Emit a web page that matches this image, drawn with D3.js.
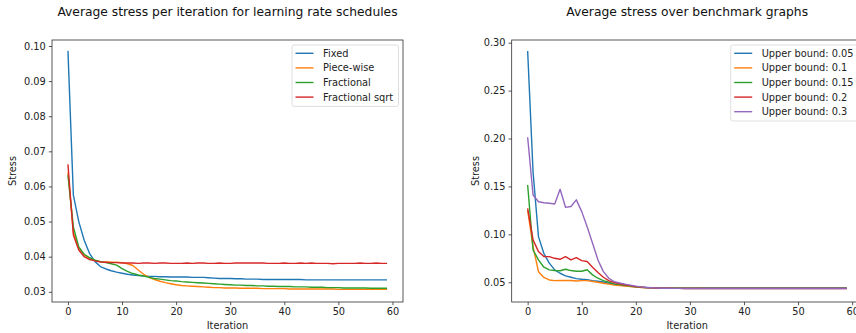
<!DOCTYPE html>
<html>
<head>
<meta charset="utf-8">
<script src="https://cdn.jsdelivr.net/npm/d3@7"></script>
<style>
  body { margin: 0; background: #fff; }
  svg { display: block; font-family: "DejaVu Sans", sans-serif; }
</style>
</head>
<body>
<svg id="chart" width="856" height="333"></svg>
<script>
// iterations 0..59
const iterations = d3.range(60);

// left panel: learning rate schedules
const scheduleNames = ["Fixed", "Piece-wise", "Fractional", "Fractional sqrt"];
const fixed = [0.0986, 0.0575, 0.0500, 0.0447, 0.0409, 0.0386, 0.0372, 0.0365, 0.0360, 0.0356,
  0.0353, 0.0350, 0.0348, 0.0346, 0.0345, 0.0344, 0.0344, 0.0343, 0.0343, 0.0342,
  0.0342, 0.0342, 0.0342, 0.0341, 0.0341, 0.0341, 0.0340, 0.0339, 0.0338, 0.0338,
  0.0338, 0.0337, 0.0337, 0.0336, 0.0336, 0.0336, 0.0335, 0.0335, 0.0335, 0.0335,
  0.0335, 0.0335, 0.0335, 0.0335, 0.0334, 0.0334, 0.0334, 0.0334, 0.0334, 0.0334,
  0.0334, 0.0334, 0.0334, 0.0334, 0.0334, 0.0334, 0.0334, 0.0334, 0.0334, 0.0334];
const pieceWise = [0.0640, 0.0470, 0.0425, 0.0405, 0.0395, 0.0389, 0.0386, 0.0385, 0.0384, 0.0384,
  0.0383, 0.0380, 0.0375, 0.0362, 0.0350, 0.0341, 0.0335, 0.0330, 0.0326, 0.0323,
  0.0320, 0.0318, 0.0317, 0.0316, 0.0315, 0.0314, 0.0313, 0.0312, 0.0312, 0.0311,
  0.0311, 0.0311, 0.0310, 0.0310, 0.0310, 0.0310, 0.0309, 0.0309, 0.0309, 0.0309,
  0.0309, 0.0308, 0.0308, 0.0308, 0.0308, 0.0308, 0.0308, 0.0308, 0.0308, 0.0308,
  0.0307, 0.0307, 0.0307, 0.0307, 0.0307, 0.0307, 0.0307, 0.0307, 0.0307, 0.0307];
const fractional = [0.0632, 0.0485, 0.0428, 0.0407, 0.0397, 0.0390, 0.0386, 0.0383, 0.0380, 0.0376,
  0.0366, 0.0358, 0.0352, 0.0348, 0.0345, 0.0341, 0.0338, 0.0336, 0.0334, 0.0332,
  0.0331, 0.0329, 0.0328, 0.0327, 0.0326, 0.0325, 0.0324, 0.0323, 0.0322, 0.0321,
  0.0320, 0.0319, 0.0319, 0.0318, 0.0318, 0.0317, 0.0317, 0.0316, 0.0316, 0.0315,
  0.0315, 0.0315, 0.0314, 0.0314, 0.0314, 0.0313, 0.0313, 0.0313, 0.0312, 0.0312,
  0.0312, 0.0311, 0.0311, 0.0311, 0.0311, 0.0311, 0.0310, 0.0310, 0.0310, 0.0310];
const fractionalSqrt = [0.0663, 0.0462, 0.0419, 0.0400, 0.0392, 0.0388, 0.0385, 0.0384, 0.0383, 0.0383,
  0.0382, 0.0382, 0.0382, 0.0381, 0.0382, 0.0382, 0.0381, 0.0382, 0.0382, 0.0381,
  0.0381, 0.0381, 0.0382, 0.0381, 0.0382, 0.0382, 0.0381, 0.0381, 0.0382, 0.0381,
  0.0381, 0.0382, 0.0382, 0.0382, 0.0382, 0.0382, 0.0382, 0.0381, 0.0381, 0.0381,
  0.0382, 0.0381, 0.0381, 0.0382, 0.0381, 0.0382, 0.0381, 0.0381, 0.0381, 0.0380,
  0.0381, 0.0381, 0.0381, 0.0381, 0.0382, 0.0381, 0.0381, 0.0382, 0.0381, 0.0381];

// right panel: benchmark graphs
const boundNames = ["Upper bound: 0.05", "Upper bound: 0.1", "Upper bound: 0.15", "Upper bound: 0.2", "Upper bound: 0.3"];
const bound005 = [0.2913, 0.1650, 0.0976, 0.0800, 0.0700, 0.0629, 0.0594, 0.0566, 0.0552, 0.0538,
  0.0531, 0.0528, 0.0517, 0.0510, 0.0503, 0.0490, 0.0480, 0.0472, 0.0465, 0.0458,
  0.0452, 0.0448, 0.0445, 0.0443, 0.0442, 0.0441, 0.0441, 0.0440, 0.0440, 0.0440,
  0.0440, 0.0440, 0.0440, 0.0440, 0.0440, 0.0440, 0.0440, 0.0440, 0.0440, 0.0440,
  0.0440, 0.0440, 0.0440, 0.0440, 0.0440, 0.0440, 0.0440, 0.0440, 0.0440, 0.0440,
  0.0440, 0.0440, 0.0440, 0.0440, 0.0440, 0.0440, 0.0440, 0.0440, 0.0440, 0.0440];
const bound01 = [0.1250, 0.0872, 0.0610, 0.0550, 0.0524, 0.0517, 0.0518, 0.0520, 0.0518, 0.0513,
  0.0517, 0.0517, 0.0508, 0.0500, 0.0490, 0.0480, 0.0470, 0.0465, 0.0460, 0.0455,
  0.0450, 0.0446, 0.0443, 0.0441, 0.0440, 0.0439, 0.0438, 0.0438, 0.0437, 0.0437,
  0.0437, 0.0437, 0.0437, 0.0436, 0.0436, 0.0436, 0.0436, 0.0436, 0.0436, 0.0436,
  0.0436, 0.0436, 0.0436, 0.0436, 0.0436, 0.0436, 0.0436, 0.0436, 0.0436, 0.0436,
  0.0436, 0.0436, 0.0436, 0.0436, 0.0436, 0.0436, 0.0436, 0.0436, 0.0436, 0.0436];
const bound015 = [0.1515, 0.0837, 0.0733, 0.0657, 0.0629, 0.0622, 0.0620, 0.0636, 0.0622, 0.0615,
  0.0615, 0.0630, 0.0577, 0.0542, 0.0517, 0.0500, 0.0483, 0.0475, 0.0468, 0.0460,
  0.0452, 0.0447, 0.0444, 0.0441, 0.0440, 0.0439, 0.0438, 0.0438, 0.0437, 0.0437,
  0.0437, 0.0437, 0.0437, 0.0437, 0.0437, 0.0437, 0.0437, 0.0437, 0.0437, 0.0437,
  0.0437, 0.0437, 0.0437, 0.0437, 0.0437, 0.0437, 0.0437, 0.0437, 0.0437, 0.0437,
  0.0437, 0.0437, 0.0437, 0.0437, 0.0437, 0.0437, 0.0437, 0.0437, 0.0437, 0.0437];
const bound02 = [0.1272, 0.0942, 0.0820, 0.0768, 0.0768, 0.0750, 0.0740, 0.0768, 0.0733, 0.0757,
  0.0726, 0.0716, 0.0657, 0.0601, 0.0552, 0.0517, 0.0497, 0.0485, 0.0474, 0.0465,
  0.0455, 0.0449, 0.0444, 0.0441, 0.0439, 0.0438, 0.0437, 0.0436, 0.0436, 0.0435,
  0.0435, 0.0435, 0.0435, 0.0435, 0.0435, 0.0435, 0.0435, 0.0435, 0.0435, 0.0435,
  0.0435, 0.0435, 0.0435, 0.0435, 0.0435, 0.0435, 0.0435, 0.0435, 0.0435, 0.0435,
  0.0435, 0.0435, 0.0435, 0.0435, 0.0435, 0.0435, 0.0435, 0.0435, 0.0435, 0.0435];
const bound03 = [0.2013, 0.1410, 0.1340, 0.1330, 0.1324, 0.1317, 0.1470, 0.1282, 0.1290, 0.1360,
  0.1237, 0.1080, 0.0907, 0.0733, 0.0611, 0.0542, 0.0507, 0.0492, 0.0480, 0.0470,
  0.0460, 0.0452, 0.0446, 0.0442, 0.0440, 0.0438, 0.0437, 0.0436, 0.0436, 0.0435,
  0.0435, 0.0435, 0.0435, 0.0435, 0.0435, 0.0435, 0.0435, 0.0435, 0.0435, 0.0435,
  0.0435, 0.0435, 0.0435, 0.0435, 0.0435, 0.0435, 0.0435, 0.0435, 0.0435, 0.0435,
  0.0435, 0.0435, 0.0435, 0.0435, 0.0435, 0.0435, 0.0435, 0.0435, 0.0435, 0.0435];

const leftTicks = [0.03, 0.04, 0.05, 0.06, 0.07, 0.08, 0.09, 0.10];
const rightTicks = [0.05, 0.10, 0.15, 0.20, 0.25, 0.30];
const xTicks = [0, 10, 20, 30, 40, 50, 60];

const colors = ["#1f77b4", "#ff7f0e", "#2ca02c", "#d62728", "#9467bd"];

const svg = d3.select("#chart");

function drawPanel(opt) {
    const x = d3.scaleLinear().domain([-2.95, 61.95]).range([opt.left, opt.right]);
    const y = d3.scaleLinear().domain(opt.yDomain).range([opt.bottom, opt.top]);
    const g = svg.append("g");

    const line = d3.line()
        .x((d, i) => x(iterations[i]))
        .y(d => y(d));

    opt.series.forEach((s, k) => {
        g.append("path")
            .datum(s)
            .attr("fill", "none")
            .attr("stroke", colors[k])
            .attr("stroke-width", 1.4)
            .attr("stroke-linejoin", "round")
            .attr("d", line);
    });

    // axes
    const xAxis = g.append("g")
        .attr("transform", `translate(0,${opt.bottom})`)
        .call(d3.axisBottom(x).tickValues(xTicks).tickSize(3.2).tickPadding(3).tickFormat(d3.format("d")));
    const yAxis = g.append("g")
        .attr("transform", `translate(${opt.left},0)`)
        .call(d3.axisLeft(y).tickValues(opt.yTicks).tickSize(3.2).tickPadding(3).tickFormat(d3.format(".2f")));
    [xAxis, yAxis].forEach(a => {
        a.select(".domain").remove();
        a.selectAll("text").attr("font-size", 9.8).attr("font-family", "DejaVu Sans").attr("fill", "#222");
        a.selectAll("line").attr("stroke", "#222").attr("stroke-width", 0.75);
    });

    // frame
    g.append("rect")
        .attr("x", opt.left).attr("y", opt.top)
        .attr("width", opt.right - opt.left).attr("height", opt.bottom - opt.top)
        .attr("fill", "none").attr("stroke", "#222").attr("stroke-width", 0.75);

    // labels
    g.append("text")
        .attr("x", (opt.left + opt.right) / 2).attr("y", 15.5)
        .attr("text-anchor", "middle").attr("font-size", 12.3).attr("fill", "#111")
        .text(opt.title);
    g.append("text")
        .attr("x", (opt.left + opt.right) / 2).attr("y", 329)
        .attr("text-anchor", "middle").attr("font-size", 9.8).attr("fill", "#222")
        .text("Iteration");
    g.append("text")
        .attr("transform", `translate(${opt.ylabelX},${(opt.top + opt.bottom) / 2}) rotate(-90)`)
        .attr("text-anchor", "middle").attr("dy", "0.35em").attr("font-size", 9.8).attr("fill", "#222")
        .text("Stress");

    // legend
    const lg = g.append("g").attr("transform", `translate(${opt.legendX},45)`);
    lg.append("rect")
        .attr("width", opt.legendW).attr("height", opt.names.length * 14.6 + 3)
        .attr("rx", 2).attr("fill", "#fff").attr("fill-opacity", 0.8)
        .attr("stroke", "#d6d6d6").attr("stroke-width", 0.8);
    opt.names.forEach((name, k) => {
        const yy = 8.3 + k * 14.6;
        lg.append("line")
            .attr("x1", 3.5).attr("x2", 21.5).attr("y1", yy).attr("y2", yy)
            .attr("stroke", colors[k]).attr("stroke-width", 1.4);
        lg.append("text")
            .attr("x", 31).attr("y", yy).attr("dy", "0.35em")
            .attr("font-size", 9.8).attr("fill", "#222")
            .text(name);
    });
}

drawPanel({
    left: 52, right: 403, top: 40, bottom: 302,
    yDomain: [0.0271, 0.1017], yTicks: leftTicks,
    series: [fixed, pieceWise, fractional, fractionalSqrt],
    names: scheduleNames,
    title: "Average stress per iteration for learning rate schedules",
    ylabelX: 13, legendX: 292, legendW: 106.5
});

drawPanel({
    left: 511.7, right: 862.7, top: 40, bottom: 302,
    yDomain: [0.0294, 0.3028], yTicks: rightTicks,
    series: [bound005, bound01, bound015, bound02, bound03],
    names: boundNames,
    title: "Average stress over benchmark graphs",
    ylabelX: 476, legendX: 730.7, legendW: 127
});
</script>
</body>
</html>
